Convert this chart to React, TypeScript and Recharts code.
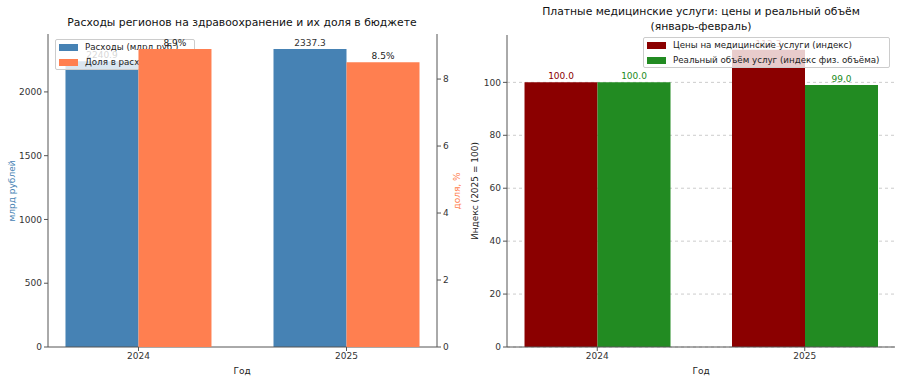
import { ComposedChart, Bar, XAxis, YAxis, CartesianGrid, LabelList } from "recharts"

const years = ["2024", "2025"]
const spending = [2240.9, 2337.3]
const sharePct = [8.9, 8.5]
const priceIndex = [100.0, 112.3]
const volumeIndex = [100.0, 99.0]

const spendTicks = [0, 500, 1000, 1500, 2000]
const shareTicks = [0, 2, 4, 6, 8]
const indexTicks = [0, 20, 40, 60, 80, 100]

const budgetData = years.map((year, i) => ({ x: i, year, spending: spending[i], share: sharePct[i] }))
const servicesData = years.map((year, i) => ({ x: i, year, price: priceIndex[i], volume: volumeIndex[i] }))

const FONT = "'DejaVu Sans', sans-serif"
const AXIS = "#555"
const TICK = { fontSize: 9, fill: "#333", fontFamily: FONT }
const X_DOMAIN: [number, number] = [-0.435, 1.435]

type LegendItem = { label: string; color: string }

// html legend so it can sit above some series and under others
function LegendBox({ left, top, width, items }: { left: number; top: number; width: number; items: LegendItem[] }) {
  return (
    <div
      style={{
        position: "absolute",
        left,
        top,
        width,
        height: items.length * 14.5 + 2,
        background: "rgba(255,255,255,0.8)",
        border: "1px solid #ccc",
        borderRadius: 2,
        boxSizing: "border-box",
        overflow: "hidden",
      }}
    >
      {items.map((it, i) => (
        <div key={it.label} style={{ position: "absolute", left: 3, top: 2 + i * 14.5, height: 11, display: "flex", alignItems: "center" }}>
          <span style={{ display: "inline-block", width: 19, height: 7, background: it.color }} />
          <span style={{ marginLeft: 7, fontSize: 8.7, lineHeight: "11px", whiteSpace: "nowrap", color: "#222" }}>{it.label}</span>
        </div>
      ))}
    </div>
  )
}

const yearTick = (v: number) => years[v] ?? ""
const fmt1 = (v: number) => v.toFixed(1)
const fmtPct = (v: number) => `${v.toFixed(1)}%`

export default function App() {
  return (
    <div style={{ position: "absolute", left: 0, top: 0, width: 901, height: 382, background: "#fff", fontFamily: FONT }}>
      {/* left: spending bars + axes */}
      <div style={{ position: "absolute", left: 0, top: 0 }}>
        <ComposedChart width={460} height={382} data={budgetData} margin={{ top: 34, right: 0, bottom: 0, left: 0 }} barGap={0}>
          <XAxis dataKey="x" type="number" domain={X_DOMAIN} ticks={[0, 1]} tickFormatter={yearTick} height={35} tick={TICK} tickSize={4} stroke={AXIS} allowDataOverflow />
          <XAxis xAxisId="top" orientation="top" type="number" domain={X_DOMAIN} height={0} tick={false} tickLine={false} stroke={AXIS} />
          <YAxis yAxisId="left" domain={[0, 2454]} ticks={spendTicks} width={48} tick={TICK} tickSize={4} stroke={AXIS} allowDataOverflow />
          <YAxis yAxisId="right" orientation="right" domain={[0, 9.345]} ticks={shareTicks} width={23} tick={TICK} tickSize={4} stroke={AXIS} allowDataOverflow />
          <Bar yAxisId="left" dataKey="spending" fill="#4682B4" barSize={73} isAnimationActive={false}>
            <LabelList dataKey="spending" position="top" offset={3} fontSize={9} fill="#333" fontFamily={FONT} formatter={fmt1} />
          </Bar>
          <Bar yAxisId="right" dataKey="share" fill="transparent" barSize={73} isAnimationActive={false} />
        </ComposedChart>
      </div>

      <LegendBox
        left={55}
        top={39}
        width={140}
        items={[
          { label: "Расходы (млрд руб.)", color: "#4682B4" },
          { label: "Доля в расходах (%)", color: "#FF7F50" },
        ]}
      />

      {/* left: share bars drawn above the legend (twin axis) */}
      <div style={{ position: "absolute", left: 0, top: 0 }}>
        <ComposedChart width={460} height={382} data={budgetData} margin={{ top: 34, right: 0, bottom: 0, left: 0 }} barGap={0}>
          <XAxis dataKey="x" type="number" domain={X_DOMAIN} ticks={[0, 1]} height={35} tick={false} tickLine={false} axisLine={false} allowDataOverflow />
          <YAxis yAxisId="left" domain={[0, 2454]} width={48} tick={false} tickLine={false} axisLine={false} allowDataOverflow />
          <YAxis yAxisId="right" orientation="right" domain={[0, 9.345]} width={23} tick={false} tickLine={false} axisLine={false} allowDataOverflow />
          <Bar yAxisId="left" dataKey="spending" fill="transparent" barSize={73} isAnimationActive={false} />
          <Bar yAxisId="right" dataKey="share" fill="#FF7F50" barSize={73} isAnimationActive={false}>
            <LabelList dataKey="share" position="top" offset={3} fontSize={9} fill="#222" fontFamily={FONT} formatter={fmtPct} />
          </Bar>
        </ComposedChart>
      </div>

      {/* right: paid medical services */}
      <div style={{ position: "absolute", left: 450, top: 0 }}>
        <ComposedChart width={451} height={382} data={servicesData} margin={{ top: 35, right: 6, bottom: 0, left: 0 }} barGap={0}>
          <CartesianGrid vertical={false} stroke="#ccc" strokeDasharray="3 3" horizontalValues={indexTicks} />
          <XAxis dataKey="x" type="number" domain={X_DOMAIN} ticks={[0, 1]} tickFormatter={yearTick} height={35} tick={TICK} tickSize={4} stroke={AXIS} allowDataOverflow />
          <XAxis xAxisId="top" orientation="top" type="number" domain={X_DOMAIN} height={0} tick={false} tickLine={false} stroke={AXIS} />
          <YAxis domain={[0, 117.9]} ticks={indexTicks} width={57} tick={TICK} tickSize={4} stroke={AXIS} allowDataOverflow />
          <YAxis yAxisId="edge" orientation="right" domain={[0, 1]} width={0} tick={false} tickLine={false} stroke={AXIS} />
          <Bar dataKey="price" fill="#8B0000" barSize={73} isAnimationActive={false}>
            <LabelList dataKey="price" position="top" offset={3} fontSize={9} fill="#8B0000" fontFamily={FONT} formatter={fmt1} />
          </Bar>
          <Bar dataKey="volume" fill="#228B22" barSize={73} isAnimationActive={false}>
            <LabelList dataKey="volume" position="top" offset={3} fontSize={9} fill="#228B22" fontFamily={FONT} formatter={fmt1} />
          </Bar>
        </ComposedChart>
      </div>

      <LegendBox
        left={643}
        top={37}
        width={247}
        items={[
          { label: "Цены на медицинские услуги (индекс)", color: "#8B0000" },
          { label: "Реальный объём услуг (индекс физ. объёма)", color: "#228B22" },
        ]}
      />

      <svg width={901} height={382} style={{ position: "absolute", left: 0, top: 0, pointerEvents: "none" }} fontFamily={FONT}>
        <text x={242} y={23} textAnchor="middle" dominantBaseline="middle" fontSize={10.8} fill="#111">
          Расходы регионов на здравоохранение и их доля в бюджете
        </text>
        <text x={701} y={12} textAnchor="middle" fontSize={10.8} fill="#111" dominantBaseline="middle">
          Платные медицинские услуги: цены и реальный объём
        </text>
        <text x={701} y={27} textAnchor="middle" fontSize={10.8} fill="#111" dominantBaseline="middle">
          (январь-февраль)
        </text>
        <text transform="translate(12,191) rotate(-90)" textAnchor="middle" dominantBaseline="middle" fontSize={9} fill="#4682B4">
          млрд рублей
        </text>
        <text transform="translate(457,191) rotate(-90)" textAnchor="middle" dominantBaseline="middle" fontSize={9} fill="#FF7F50">
          доля, %
        </text>
        <text transform="translate(475,191) rotate(-90)" textAnchor="middle" dominantBaseline="middle" fontSize={9} fill="#222">
          Индекс (2025 = 100)
        </text>
        <text x={242} y={371} textAnchor="middle" dominantBaseline="middle" fontSize={9} fill="#222">
          Год
        </text>
        <text x={701} y={371} textAnchor="middle" dominantBaseline="middle" fontSize={9} fill="#222">
          Год
        </text>
      </svg>
    </div>
  )
}
